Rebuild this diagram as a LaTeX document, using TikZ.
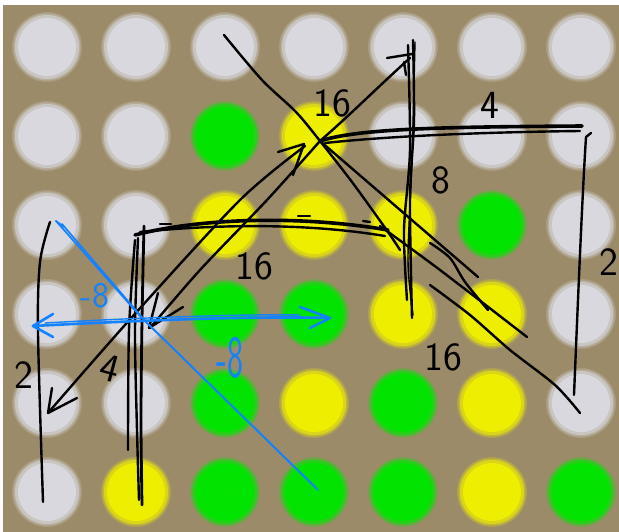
\documentclass[tikz,border=0pt]{standalone}
\usetikzlibrary{calc}
\definecolor{board}{RGB}{156,139,104}
\definecolor{ledw}{RGB}{216,216,222}
\definecolor{ledg}{RGB}{0,228,0}
\definecolor{ledy}{RGB}{238,238,0}
\definecolor{penblue}{RGB}{20,130,255}
\tikzset{%
  pen/.style={draw=black, line width=2.4pt, line cap=round, line join=round},% black ink
  bar/.style={pen, line width=3.6pt},% doubled strokes
  bluepen/.style={draw=penblue, line width=2.6pt, line cap=round, line join=round},% blue ink
  note/.style={font=\sffamily\fontsize{40}{40}\selectfont, inner sep=0pt},% hand written numbers
  dot/.style={circle, inner sep=0pt, minimum size=58pt}% one lamp of the board
}
\begin{document}
\begin{tikzpicture}[x=1pt, y=-1pt]
  \useasboundingbox (0,0) rectangle (619,532);
  \fill[white] (0,0) rectangle (619,532);
  \fill[board] (3,5) rectangle (619,532);
  % The board of lamps, row by row:
  \foreach \row/\cols in {1/{w,w,w,w,w,w,w}, 2/{w,w,g,y,w,w,w}, 3/{w,w,y,y,y,g,w},
      4/{w,w,g,g,y,y,w}, 5/{w,w,g,y,g,y,w}, 6/{w,y,g,g,g,y,g}} {
    \foreach \c [count=\col] in \cols {
      \coordinate (d\row\col) at ({47+89*(\col-1)}, {47+89*(\row-1)});
      \fill[led\c!20!board] (d\row\col) circle (35);
      \fill[led\c!45!board] (d\row\col) circle (33.5);
      \fill[led\c!75!board] (d\row\col) circle (32);
      \node[dot, fill=led\c] (n\row\col) at (d\row\col) {};
    }
  }
  \coordinate (cross) at (320,141);
  % The big cross and its branches:
  \draw[pen] plot[smooth] coordinates {(224,35) (262,80) (296,112) (cross) (352,182) (388,232) (400,250)};
  \draw[pen] (cross) -- (478,277);
  \draw[pen] plot[smooth] coordinates {(380,226) (440,270) (527,337)};
  \draw[pen] plot[smooth] coordinates {(430,243) (450,258) (465,282) (488,310)};
  \draw[pen] plot[smooth] coordinates {(430,285) (470,315) (510,350) (555,385) (580,413)};
  \draw[pen] (cross) .. controls (350,115) and (380,85) .. (410,58);
  \draw[pen] (387,58) -- (412,54);
  \draw[pen] (404,62) -- (406,75);
  % Vertical bar on the right:
  \draw[pen] plot[smooth] coordinates {(413,40) (414,120) (410,200) (412,318)};
  \draw[pen] plot[smooth] coordinates {(408,45) (410,150) (404,230) (407,300)};
  \draw[pen, line width=1.4pt] plot[smooth] coordinates {(415,42) (412,160) (408,260) (413,315)};
  % Horizontal bar and bracket on the right:
  \draw[bar] (cross) .. controls (360,128) and (450,127) .. (582,126);
  \draw[pen] (325,143) .. controls (400,135) and (500,132) .. (580,131);
  \draw[pen] (591,133) -- (586,137) .. controls (582,200) and (578,300) .. (574,395);
  % Top of the triangle:
  \draw[bar] (135,235) .. controls (200,218) and (300,215) .. (388,230);
  \draw[pen] (140,232) .. controls (210,225) and (300,222) .. (385,236);
  \draw[pen] (160,224) -- (171,224);
  \draw[pen] (298,216) -- (310,216);
  \draw[pen] (363,221) -- (370,222);
  % Vertical bar and bracket on the left:
  \draw[bar, line width=2.8pt] plot[smooth] coordinates {(144,226) (142,320) (141,420) (142,505)};
  \draw[pen] plot[smooth] coordinates {(138,238) (135,330) (137,430) (139,500)};
  \draw[pen] plot[smooth] coordinates {(135,240) (129,330) (128,450)};
  \draw[pen] plot[smooth] coordinates {(50,222) (40,262) (38,333) (43,502)};
  % Diagonals to the lower left:
  \draw[pen] plot[smooth] coordinates {(48,413) (133,316) (240,200) (305,146)};
  \draw[pen] (278,152) -- (304,144) -- (293,175);
  \draw[pen] (52,388) -- (48,413) -- (77,398);
  \draw[pen] plot[smooth] coordinates {(150,328) (200,270) (267,200) (cross)};
  \draw[pen] (158,293) -- (149,328) -- (183,307);
  % Blue strokes:
  \draw[bluepen] (33,326) .. controls (150,320) and (250,316) .. (330,318);
  \draw[bluepen, line width=1.4pt] (45,323) .. controls (150,317) and (250,314) .. (300,315);
  \draw[bluepen] (53,314) -- (33,326) -- (53,337);
  \draw[bluepen] (300,307) -- (330,318) -- (310,328);
  \draw[bluepen, line width=1.7pt] (56,221) -- (140,316) -- (318,490);
  \draw[bluepen, line width=1.7pt] (62,224) -- (146,322) -- (315,487);
  \draw[bluepen, line width=1.7pt] (56,221) -- (64,227);
  % Numbers:
  \node[note] (l16a) at (332,103) {16};
  \node[note] (l4a) at (490,105) {4};
  \node[note] (l8) at (441,180) {8};
  \node[note] (l16b) at (254,266) {16};
  \node[note] (l16c) at (443,357) {16};
  \node[note, rotate=-15] (l4b) at (110,368) {4};
  \node[note] (l2a) at (24,375) {2};
  \node[note] (l2b) at (609,262) {2};
  \node[note, text=penblue, scale=0.9] (l8a) at (95,296) {-8};
  \node[note, text=penblue, xscale=0.85, yscale=1.5] (l8b) at (230,358) {-8};
\end{tikzpicture}
\end{document}
